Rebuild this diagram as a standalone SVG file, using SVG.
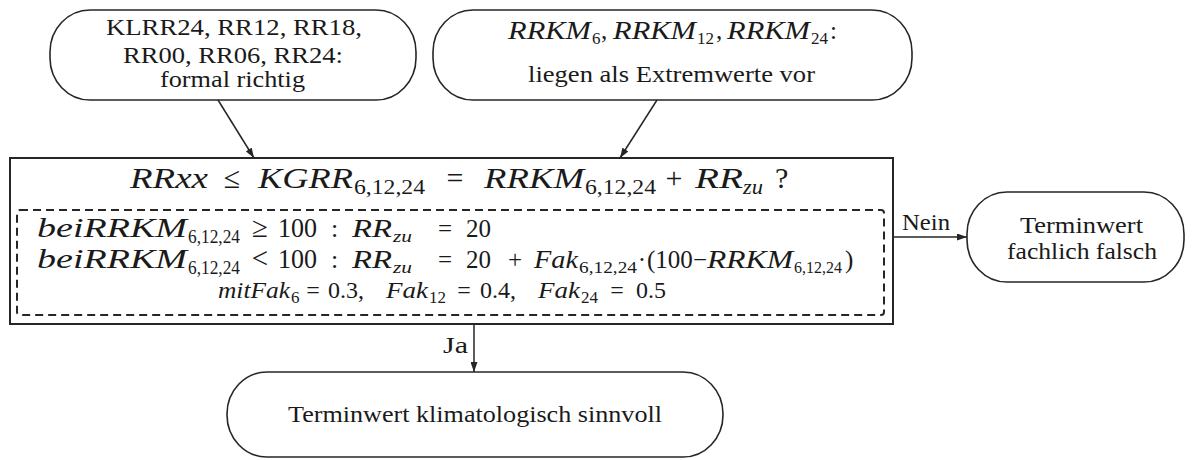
<svg xmlns="http://www.w3.org/2000/svg" width="1192" height="460" viewBox="0 0 1192 460">
  <defs>
    <style>
      .node{fill:#fff;stroke:#262626;stroke-width:1.6}
      .frame{fill:none;stroke:#262626;stroke-width:2}
      .dash{fill:none;stroke:#262626;stroke-width:2;stroke-dasharray:8 5}
      .edge{fill:none;stroke:#262626;stroke-width:1.5}
      text{font-family:"Liberation Serif","Times New Roman",serif;fill:#1a1a1a}
      .t{font-size:24px}
      .mi{font-style:italic}
      .m{text-anchor:middle}
    </style>
    <marker id="ah" viewBox="0 0 10 7" refX="10" refY="3.5" markerWidth="10" markerHeight="7" markerUnits="userSpaceOnUse" orient="auto">
      <path d="M0,0 L10,3.5 L0,7 z" fill="#262626"/>
    </marker>
  </defs>
  <rect width="1192" height="460" fill="#fff"/>

  <!-- input: formally correct values -->
  <g id="n-formal">
    <rect class="node" x="50" y="10" width="366" height="90" rx="40" ry="42"/>
    <text class="t" x="106" y="35" textLength="256" lengthAdjust="spacingAndGlyphs">KLRR24, RR12, RR18,</text>
    <text class="t" x="123" y="63" textLength="220" lengthAdjust="spacingAndGlyphs">RR00, RR06, RR24:</text>
    <text class="t" x="160" y="87" textLength="145" lengthAdjust="spacingAndGlyphs">formal richtig</text>
  </g>

  <!-- input: extreme values available -->
  <g id="n-extrem">
    <rect class="node" x="433" y="10" width="479" height="90" rx="40" ry="42"/>
    <text class="mi" x="508" y="39" font-size="25" textLength="83" lengthAdjust="spacingAndGlyphs">RRKM</text>
    <text x="592" y="44" font-size="17">6</text>
    <text x="601" y="39" font-size="25">,</text>
    <text class="mi" x="613" y="39" font-size="25" textLength="83" lengthAdjust="spacingAndGlyphs">RRKM</text>
    <text x="697" y="44" font-size="17">12</text>
    <text x="716" y="39" font-size="25">,</text>
    <text class="mi" x="727" y="39" font-size="25" textLength="83" lengthAdjust="spacingAndGlyphs">RRKM</text>
    <text x="811" y="44" font-size="17">24</text>
    <text x="830" y="39" font-size="25">:</text>
    <text class="t" x="528" y="82" textLength="287" lengthAdjust="spacingAndGlyphs">liegen als Extremwerte vor</text>
  </g>

  <!-- plausibility check -->
  <g id="n-check">
    <rect class="frame" x="10" y="158" width="883" height="166"/>
    <rect class="dash" x="17" y="210" width="867" height="105" rx="3"/>

    <!-- RRxx <= KGRR = RRKM + RRzu ? -->
    <text class="mi" x="130" y="188" font-size="30" textLength="78" lengthAdjust="spacingAndGlyphs">RRxx</text>
    <text class="m" x="232" y="188" font-size="30">≤</text>
    <text class="mi" x="258" y="188" font-size="30" textLength="95" lengthAdjust="spacingAndGlyphs">KGRR</text>
    <text x="354" y="194" font-size="20" textLength="71" lengthAdjust="spacingAndGlyphs">6,12,24</text>
    <text class="m" x="455" y="188" font-size="30">=</text>
    <text class="mi" x="484" y="188" font-size="30" textLength="100" lengthAdjust="spacingAndGlyphs">RRKM</text>
    <text x="585" y="194" font-size="20" textLength="71" lengthAdjust="spacingAndGlyphs">6,12,24</text>
    <text class="m" x="674" y="188" font-size="30">+</text>
    <text class="mi" x="695" y="188" font-size="30" textLength="48" lengthAdjust="spacingAndGlyphs">RR</text>
    <text class="mi" x="743" y="194" font-size="20" textLength="20" lengthAdjust="spacingAndGlyphs">zu</text>
    <text x="775" y="188" font-size="30">?</text>

    <!-- case RRKM >= 100 -->
    <text class="mi" x="37" y="237" font-size="28" textLength="150" lengthAdjust="spacingAndGlyphs">beiRRKM</text>
    <text x="188" y="243" font-size="19" textLength="52" lengthAdjust="spacingAndGlyphs">6,12,24</text>
    <text class="m" x="260" y="237" font-size="29">≥</text>
    <text x="278" y="237" font-size="28" textLength="39" lengthAdjust="spacingAndGlyphs">100</text>
    <text x="331" y="237" font-size="26">:</text>
    <text class="mi" x="352" y="237" font-size="25" textLength="40" lengthAdjust="spacingAndGlyphs">RR</text>
    <text class="mi" x="393" y="242" font-size="17" textLength="19" lengthAdjust="spacingAndGlyphs">zu</text>
    <text class="m" x="445" y="237" font-size="25">=</text>
    <text x="466" y="237" font-size="25">20</text>

    <!-- case RRKM < 100 -->
    <text class="mi" x="37" y="268" font-size="28" textLength="150" lengthAdjust="spacingAndGlyphs">beiRRKM</text>
    <text x="188" y="274" font-size="19" textLength="52" lengthAdjust="spacingAndGlyphs">6,12,24</text>
    <text class="m" x="260" y="268" font-size="29">&lt;</text>
    <text x="278" y="268" font-size="28" textLength="39" lengthAdjust="spacingAndGlyphs">100</text>
    <text x="331" y="268" font-size="26">:</text>
    <text class="mi" x="352" y="268" font-size="25" textLength="40" lengthAdjust="spacingAndGlyphs">RR</text>
    <text class="mi" x="393" y="273" font-size="17" textLength="19" lengthAdjust="spacingAndGlyphs">zu</text>
    <text class="m" x="445" y="268" font-size="25">=</text>
    <text x="466" y="268" font-size="25">20</text>
    <text class="m" x="515" y="268" font-size="25">+</text>
    <text class="mi" x="534" y="268" font-size="25" textLength="44" lengthAdjust="spacingAndGlyphs">Fak</text>
    <text x="579" y="273" font-size="17" textLength="58" lengthAdjust="spacingAndGlyphs">6,12,24</text>
    <text class="m" x="642" y="268" font-size="25">·</text>
    <text x="647" y="268" font-size="25">(100</text>
    <text class="m" x="700" y="268" font-size="25">−</text>
    <text class="mi" x="707" y="268" font-size="25" textLength="86" lengthAdjust="spacingAndGlyphs">RRKM</text>
    <text x="794" y="273" font-size="17" textLength="48" lengthAdjust="spacingAndGlyphs">6,12,24</text>
    <text x="845" y="268" font-size="25">)</text>

    <!-- factors -->
    <text class="mi" x="218" y="298" font-size="24" textLength="72" lengthAdjust="spacingAndGlyphs">mitFak</text>
    <text x="291" y="303" font-size="17">6</text>
    <text class="m" x="313" y="298" font-size="24">=</text>
    <text x="328" y="298" font-size="24">0.3,</text>
    <text class="mi" x="386" y="298" font-size="24" textLength="42" lengthAdjust="spacingAndGlyphs">Fak</text>
    <text x="429" y="303" font-size="17">12</text>
    <text class="m" x="464" y="298" font-size="24">=</text>
    <text x="480" y="298" font-size="24">0.4,</text>
    <text class="mi" x="538" y="298" font-size="24" textLength="42" lengthAdjust="spacingAndGlyphs">Fak</text>
    <text x="581" y="303" font-size="17">24</text>
    <text class="m" x="617" y="298" font-size="24">=</text>
    <text x="636" y="298" font-size="24">0.5</text>
  </g>

  <!-- result: wrong -->
  <g id="n-falsch">
    <rect class="node" x="967" y="192" width="217" height="90" rx="40" ry="42"/>
    <text class="t" x="1020" y="233" textLength="123" lengthAdjust="spacingAndGlyphs">Terminwert</text>
    <text class="t" x="1007" y="259" textLength="150" lengthAdjust="spacingAndGlyphs">fachlich falsch</text>
  </g>

  <!-- result: plausible -->
  <g id="n-sinnvoll">
    <rect class="node" x="227" y="372" width="496" height="85" rx="40" ry="42"/>
    <text class="t" x="288" y="422" textLength="374" lengthAdjust="spacingAndGlyphs">Terminwert klimatologisch sinnvoll</text>
  </g>

  <!-- connectors -->
  <g id="edges">
    <line class="edge" x1="218" y1="100" x2="254" y2="158" marker-end="url(#ah)"/>
    <line class="edge" x1="657" y1="100" x2="620" y2="158" marker-end="url(#ah)"/>
    <line class="edge" x1="893" y1="237" x2="967" y2="237" marker-end="url(#ah)"/>
    <line class="edge" x1="474" y1="324" x2="474" y2="372" marker-end="url(#ah)"/>
    <text class="t" x="902" y="230" textLength="48" lengthAdjust="spacingAndGlyphs">Nein</text>
    <text class="t" x="443" y="353" textLength="25" lengthAdjust="spacingAndGlyphs">Ja</text>
  </g>
</svg>
